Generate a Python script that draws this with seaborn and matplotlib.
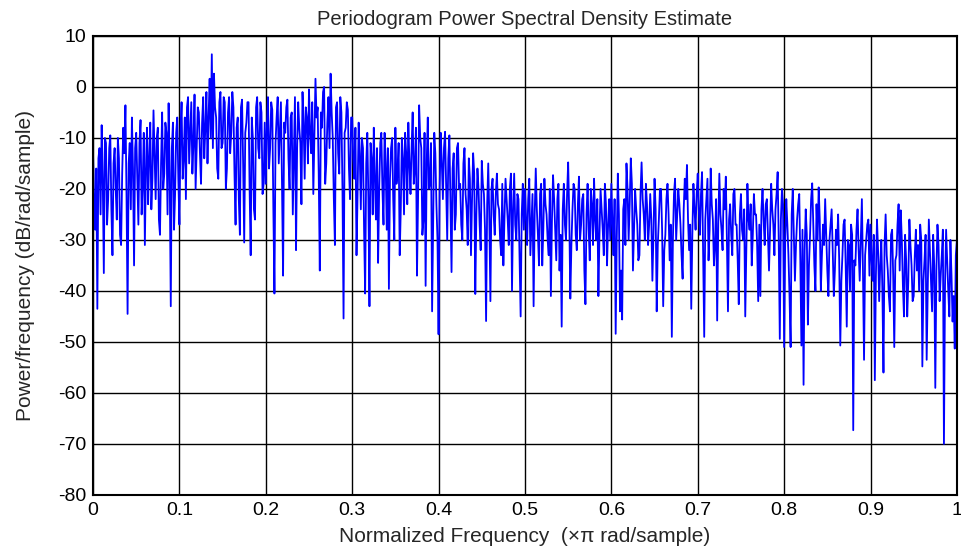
import numpy as np
import pandas as pd
import matplotlib
matplotlib.use("Agg")
import matplotlib.pyplot as plt
import seaborn as sns

# periodogram values (dB/rad/sample), 80 per 0.1 band
d0 = [-13, -22, -28, -16, -43.5, -14, -12, -25, -7.5, -18, -36.5, -10, -11, -27, -22, -12, -9.5, -24, -33, -15,
      -12, -20, -26, -10, -14, -29, -31, -17, -8, -13, -3.6, -21, -44.5, -15, -11, -24, -6, -16, -35, -12,
      -9, -18, -27, -11, -6.5, -25, -19, -9, -31, -16, -8, -23, -14, -7, -24, -18, -4.6, -13, -22, -10,
      -8, -26, -29, -15, -5, -20, -17, -7, -9, -25, -3.2, -17, -43, -12, -7, -28, -21, -9, -6, -18]
d1 = [-27, -9, -3, -18, -14, -6, -22, -4, -2, -15, -9, -3, -17, -11, -1.5, -20, -12, -4, -5, -13,
      -19, -7, -2, -14, -8, -1, -15, -6, 1.6, -10, 6.4, -12, 2.6, -4, -6, -16, -18, -3, -1, -12,
      -11, -2, -3, -20, -16, -5, -2, -13, -9, -1, -4, -17, -27, -8, -6, -22, -29, -4, -2.5, -15,
      -30.5, -9, -7, -3, -3, -20, -33, -6, -10, -24, -26, -4, -2, -12, -14, -3, -5, -21, -19, -7]
d2 = [-19, -8, -2, -16, -12, -3, -4.5, -24, -40.5, -11, -6, -2, -15, -9, -3, -19, -37, -7, -9, -4,
      -2.5, -14, -20, -6, -5, -25, -14, -2, -32, -12, -3, -8, -11, -23, -1, -7, -18, -4, -6, -15,
      -0.5, -9, -13, -3, -21, -10, 1.6, -6, -4, -17, -36, -5, -8, -1, 0, -19, -15, -7, -2, -12,
      2.6, -5, -10, -22, -31, -4, -3, -13, -17, -2, -5, -20, -45.4, -9, -8, -3, -4.5, -16, -22, -6]
d3 = [-6, -14, -18, -8, -33, -21, -7, -13, -24, -10, -12, -28, -40.5, -15, -9, -22, -43, -11, -14, -25,
      -8, -18, -26, -12, -34.5, -20, -11, -9, -20, -27, -9, -15, -28, -12, -39.6, -18, -12, -10, -22, -30,
      -8, -19, -17, -11, -33, -24, -10, -14, -25, -9, -13, -23, -7, -15, -21, -12, -5, -19, -16, -8,
      -37, -22, -3.6, -10, -12, -29, -26, -9, -39, -15, -6, -20, -19, -11, -44, -27, -9, -13, -23, -30]
d4 = [-48.5, -20, -9, -15, -22, -12, -8.8, -19, -30, -14, -9.5, -23, -36.3, -16, -13, -28, -25, -12, -11, -20,
      -19, -27, -30, -15, -12, -21, -24, -31, -14, -18, -33, -22, -13, -17, -40.6, -25, -16, -20, -27, -32,
      -14.5, -19, -21, -28, -45.9, -23, -15, -26, -42, -20, -18, -25, -29, -21, -17, -23, -24, -30, -33, -19,
      -35, -26, -18, -22, -26, -31, -20, -17, -40, -24, -17, -27, -30, -21, -22, -34, -45, -25, -19, -28]
d5 = [-20, -26, -31, -22, -18, -33, -27, -21, -43, -25, -16, -24, -29, -35, -21, -19, -35, -28, -18, -23,
      -25, -30, -33, -20, -41, -26, -17.3, -22, -28, -34, -22, -19, -36, -29, -47, -24, -19, -27, -30, -21,
      -14.8, -25, -41.5, -31, -24, -19, -20, -29, -32, -23, -17.6, -30, -27, -22, -21, -36, -42.6, -25, -19, -28,
      -34, -20, -23, -31, -18, -26, -30, -22, -41, -29, -20, -24, -28, -33, -19, -23, -35, -27, -22, -30]
d6 = [-19, -27, -33, -22, -48.4, -30, -17, -25, -44, -36, -45.6, -24, -22, -31, -15, -20, -30, -23, -14, -19,
      -36, -28, -20, -24, -27, -34, -33, -21, -14.8, -22, -25, -30, -19, -23, -31, -27, -21, -26, -38, -29,
      -18, -24, -44, -31, -26, -20, -20, -28, -43, -32, -29, -22, -19, -25, -34, -27, -49, -30, -21, -18,
      -30, -25, -20, -23, -27, -33, -37.6, -24, -18, -22, -15.3, -26, -32, -27, -43.5, -29, -19, -24, -28, -21]
d7 = [-17, -24, -29, -21, -16.7, -33, -49, -26, -22, -18, -34, -28, -16, -23, -26, -35, -31, -22, -45.8, -27,
      -17, -25, -28, -32, -20, -24, -17.6, -30, -44, -26, -23, -29, -33, -21, -20, -27, -27, -34, -42.6, -25,
      -21, -28, -30, -24, -45, -32, -19, -26, -28, -23, -35, -29, -21, -25, -25, -31, -42, -27, -41, -24,
      -20, -26, -31, -23, -22, -29, -36, -28, -19, -24, -27, -33, -24, -21, -16.7, -30, -49.4, -26, -20, -23]
d8 = [-51, -30, -22, -27, -33, -41, -51, -25, -20, -29, -38, -31, -26, -23, -21, -34, -50.7, -28, -58.4, -32,
      -24, -29, -46.6, -35, -29, -22, -18.9, -27, -35, -40, -23, -30, -19.7, -26, -40, -33, -27, -31, -22, -29,
      -36, -41, -30, -27, -24, -32, -41, -36, -28, -31, -25, -34, -50.7, -38, -33, -27, -26, -35, -47, -30,
      -31, -40, -27, -29, -67.3, -34, -35, -28, -24, -32, -38, -30, -22, -36, -53.5, -33, -30, -27, -26, -37]
d9 = [-27, -34, -38, -29, -57.5, -37, -26, -32, -42, -35, -30, -40, -56, -31, -25, -33, -36, -41, -44, -29,
      -28, -37, -51, -34, -33, -27, -23, -36, -24.2, -30, -39, -45, -29, -34, -45, -38, -26, -31, -35, -42,
      -41, -33, -28, -36, -31, -40, -27, -30, -54.8, -38, -34, -29, -53.5, -40, -26, -32, -38, -44, -29, -35,
      -59, -36, -27, -31, -42, -37, -33, -28, -70, -39, -28, -34, -40, -45, -30, -37, -46, -41, -51.3, -33, -30]

psd = d0 + d1 + d2 + d3 + d4 + d5 + d6 + d7 + d8 + d9
freq = np.linspace(0, 1, len(psd))

xticks = [0, 0.1, 0.2, 0.3, 0.4, 0.5, 0.6, 0.7, 0.8, 0.9, 1]
xlabels = ["0", "0.1", "0.2", "0.3", "0.4", "0.5", "0.6", "0.7", "0.8", "0.9", "1"]
yticks = [-80, -70, -60, -50, -40, -30, -20, -10, 0, 10]

df = pd.DataFrame({"f": freq, "p": psd})

sns.set_style("white")
plt.rcParams["font.family"] = ["Liberation Sans", "DejaVu Sans"]
plt.rcParams["axes.unicode_minus"] = False

fig = plt.figure(figsize=(9.62, 5.49), dpi=100)
ax = fig.add_axes([0.0967, 0.0984, 0.8980, 0.8362])

sns.lineplot(data=df, x="f", y="p", color="#0000ff", linewidth=1.3, ax=ax)

ax.set_xlim(0, 1)
ax.set_ylim(-80, 10)
ax.set_xticks(xticks)
ax.set_xticklabels(xlabels)
ax.set_yticks(yticks)
ax.grid(True, color="black", linewidth=1.0)
ax.set_axisbelow(True)
for s in ax.spines.values():
    s.set_color("black")
    s.set_linewidth(1.5)
ax.tick_params(direction="in", length=4, labelsize=14, colors="black", pad=5)

ax.set_title("Periodogram Power Spectral Density Estimate", fontsize=14.5, pad=8)
ax.set_xlabel("Normalized Frequency  (\u00d7\u03c0 rad/sample)", fontsize=15, labelpad=6)
ax.set_ylabel("Power/frequency (dB/rad/sample)", fontsize=15, labelpad=16)

fig.savefig("out.png", dpi=100)
